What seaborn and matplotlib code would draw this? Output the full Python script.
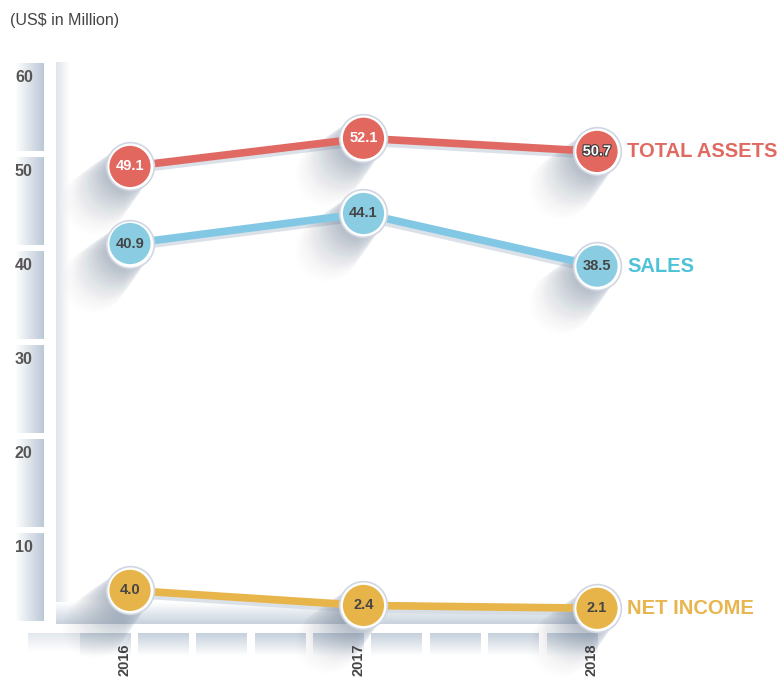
import numpy as np
import pandas as pd
import seaborn as sns
import matplotlib
matplotlib.use('Agg')
import matplotlib.pyplot as plt
import matplotlib.patheffects as pe
from matplotlib.colors import LinearSegmentedColormap
from matplotlib.transforms import offset_copy

# data (US$ million)
years = ['2016', '2017', '2018']
total_assets = [49.1, 52.1, 50.7]
sales = [40.9, 44.1, 38.5]
net_income = [4.0, 2.4, 2.1]
series_names = ['TOTAL ASSETS', 'SALES', 'NET INCOME']
y_ticks = [10, 20, 30, 40, 50, 60]

line_colors = {'TOTAL ASSETS': '#e06a63', 'SALES': '#82c8e4', 'NET INCOME': '#e8b54b'}
dot_colors = {'TOTAL ASSETS': '#e2675f', 'SALES': '#8acde3', 'NET INCOME': '#e7b44a'}
label_colors = {'TOTAL ASSETS': '#e06a62', 'SALES': '#4ec3d8', 'NET INCOME': '#e8b54e'}
value_colors = {'TOTAL ASSETS': 'white', 'SALES': '#454545', 'NET INCOME': '#454545'}

rows = []
for name, vals in zip(series_names, [total_assets, sales, net_income]):
    for i, (yr, v) in enumerate(zip(years, vals)):
        rows.append({'series': name, 'year': yr, 'idx': i, 'value': v})
df = pd.DataFrame(rows)

sns.set_theme(style='white')
plt.rcParams['font.family'] = ['Liberation Sans', 'DejaVu Sans']

W, H = 779, 677
fig = plt.figure(figsize=(W / 100, H / 100), dpi=100)
ax = fig.add_axes([0, 0, 1, 1])
ax.axis('off')

# pixel geometry of the plot (x: first year at X0, one year = XS px; y: 0 at Y0, one unit = YS px)
X0, XS, Y0, YS = 130, 233.5, 628, 9.4
xlim = (-X0 / XS, (W - X0) / XS)
ylim = ((Y0 - H) / YS, Y0 / YS)


def gx(p):
    return (p - X0) / XS


def gy(p):
    return (Y0 - p) / YS


def grad(x0, x1, y0, y1, c0, c1, vertical=False, z=0):
    cmap = LinearSegmentedColormap.from_list('g', [c0, c1])
    arr = np.linspace(0, 1, 64)
    arr = arr.reshape(-1, 1) if vertical else arr.reshape(1, -1)
    ax.imshow(arr, cmap=cmap, extent=(x0, x1, y0, y1), aspect='auto',
              origin='lower', interpolation='bicubic', zorder=z)


# left scale blocks
for t in y_ticks:
    grad(gx(15), gx(44), (t - 10) + 7 / YS, t + 1 / YS, 'white', '#bcc8d6')
    ax.annotate(str(t), (gx(15), t), xytext=(0, -14), textcoords='offset pixels',
                ha='left', va='center', fontsize=11.5, weight='bold', color='#555555')

# vertical bar and base band
grad(gx(56), gx(70), gy(624), max(y_ticks) + 2 / YS, '#dfe5ec', 'white')
grad(gx(56), gx(615), gy(624), gy(602), '#c8d2dd', 'white', vertical=True)

# bottom blocks, four per year
grad(gx(28), gx(84), gy(652), gy(633), 'white', '#e2e8ee', vertical=True)
for k in range(-1, 8):
    grad(k / 4 + 8 / XS, (k + 1) / 4, gy(656), gy(633), 'white', '#c6d1dd', vertical=True)

for i, yr in enumerate(years):
    ax.annotate(yr, (i, 0), xytext=(-5, -15), textcoords='offset pixels',
                ha='center', va='top', rotation=90, fontsize=10.5, weight='bold',
                color='#444444')

# line shadows
for name in series_names:
    d = df[df.series == name]
    ax.plot(d.idx, d.value, color='#d2dae3', lw=5, alpha=0.8, solid_capstyle='butt',
            transform=offset_copy(ax.transData, fig=fig, x=-1, y=-4, units='dots'), zorder=2)

sns.lineplot(data=df, x='idx', y='value', hue='series', palette=line_colors,
             linewidth=5.5, legend=False, ax=ax, zorder=3)

# long soft shadows of the markers, widening as they fade
n_sh = 44
for k in range(1, n_sh):
    ax.scatter(df.idx, df.value, s=1000 * (1 + k / 35), color='#8d9eb6',
               alpha=0.045 * (1 - k / n_sh) ** 1.6, linewidths=0,
               transform=offset_copy(ax.transData, fig=fig, x=-1.0 * k, y=-1.0 * k, units='dots'),
               zorder=2.5)

sns.scatterplot(data=df, x='idx', y='value', color='white', s=1180,
                edgecolor='#d0d7e2', linewidth=1.2, legend=False, ax=ax, zorder=4)
sns.scatterplot(data=df, x='idx', y='value', hue='series', palette=dot_colors, s=880,
                linewidth=0, legend=False, ax=ax, zorder=5)

for _, r in df.iterrows():
    effects = None
    if r.series == 'TOTAL ASSETS' and r.idx == 2:
        effects = [pe.withStroke(linewidth=1.6, foreground='#3a3a3a')]
    ax.text(r.idx, r.value, f'{r.value:.1f}', ha='center', va='center', fontsize=10.5,
            weight='bold', color=value_colors[r.series], zorder=6, path_effects=effects)

for name, vals in zip(series_names, [total_assets, sales, net_income]):
    ax.annotate(name, (len(years) - 1, vals[-1]), xytext=(30, 0), textcoords='offset pixels',
                ha='left', va='center', fontsize=14.5, weight='bold', color=label_colors[name])

fig.text(10 / W, 1 - 20 / H, '(US$ in Million)', ha='left', va='center', fontsize=11.5,
         color='#444444')

ax.set_xlim(*xlim)
ax.set_ylim(*ylim)
fig.savefig('out.png', dpi=100)
